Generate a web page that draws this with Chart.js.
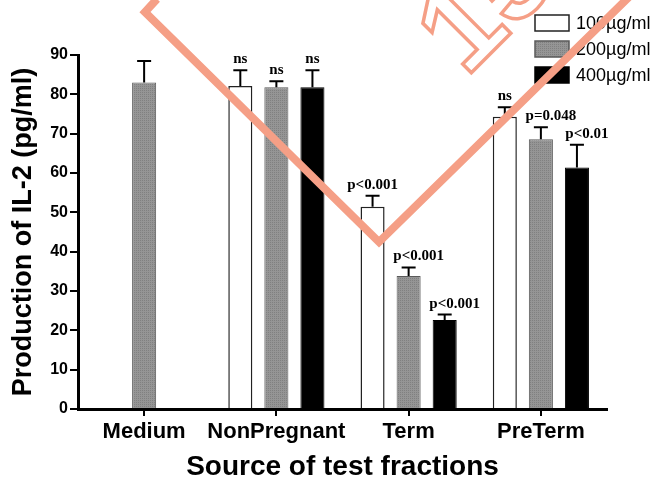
<!DOCTYPE html>
<html>
<head>
<meta charset="utf-8">
<script src="https://cdn.jsdelivr.net/npm/chart.js"></script>
<style>
  html, body { margin: 0; padding: 0; background: #fff; }
  #wrap { width: 653px; height: 478px; position: relative; }
</style>
</head>
<body>
<div id="wrap"><canvas id="il2Chart"></canvas></div>
<script>
// Data
const categories = ['Medium', 'NonPregnant', 'Term', 'PreTerm'];
const doseLabels = ['100µg/ml', '200µg/ml', '400µg/ml'];
const values100 = [null, 82.1, 51.4, 74.3];
const values200 = [83.0, 81.8, 33.8, 68.6];
const values400 = [null, 81.8, 22.6, 61.4];
const sem100 = [null, 4.0, 2.8, 2.4];
const sem200 = [5.5, 1.5, 2.2, 3.0];
const sem400 = [null, 4.3, 1.4, 5.8];
const notes100 = ['', 'ns', 'p<0.001', 'ns'];
const notes200 = ['', 'ns', 'p<0.001', 'p=0.048'];
const notes400 = ['', 'ns', 'p<0.001', 'p<0.01'];
const yTickValues = [0, 10, 20, 30, 40, 50, 60, 70, 80, 90];

const SANS = '"Liberation Sans", Arial, Helvetica, sans-serif';
const SERIF = '"Liberation Serif", "Times New Roman", serif';

const canvas = document.getElementById('il2Chart');

// fine dotted grey fill like the original print
function dotPattern() {
    const c = document.createElement('canvas');
    c.width = 2; c.height = 2;
    const g = c.getContext('2d');
    g.fillStyle = '#959595';
    g.fillRect(0, 0, 2, 2);
    g.fillStyle = '#808080';
    g.fillRect(0, 0, 1, 1);
    return canvas.getContext('2d').createPattern(c, 'repeat');
}

// upper error bars + significance labels
const errorBars = {
    id: 'errorBars',
    afterDatasetsDraw(chart) {
        const ctx = chart.ctx;
        const y = chart.scales.y;
        chart.data.datasets.forEach((ds, di) => {
            const meta = chart.getDatasetMeta(di);
            meta.data.forEach((bar, i) => {
                const v = ds.data[i];
                if (v == null) return;
                const top = y.getPixelForValue(v + ds.sem[i]);
                ctx.save();
                ctx.strokeStyle = '#000';
                ctx.lineWidth = 2;
                ctx.beginPath();
                ctx.moveTo(bar.x, bar.y);
                ctx.lineTo(bar.x, top);
                ctx.moveTo(bar.x - 7, top);
                ctx.lineTo(bar.x + 7, top);
                ctx.stroke();
                if (ds.notes[i]) {
                    ctx.fillStyle = '#000';
                    ctx.font = 'bold 15px ' + SERIF;
                    ctx.textAlign = 'center';
                    ctx.textBaseline = 'alphabetic';
                    // labels after the first bar of a group sit slightly right
                    const shift = (di > 0 && ds.notes[i] !== 'ns') ? 10 : 0;
                    ctx.fillText(ds.notes[i], bar.x + shift, top - 7);
                }
                ctx.restore();
            });
        });
    }
};

// legend in the top right corner, boxes stacked
const boxLegend = {
    id: 'boxLegend',
    afterDraw(chart) {
        const ctx = chart.ctx;
        chart.data.datasets.forEach((ds, i) => {
            const bx = 535, by = 15 + i * 26;
            ctx.save();
            ctx.fillStyle = ds.backgroundColor;
            ctx.fillRect(bx, by, 34, 16);
            ctx.strokeStyle = ds.borderColor;
            ctx.lineWidth = 1.5;
            ctx.strokeRect(bx, by, 34, 16);
            ctx.fillStyle = '#000';
            ctx.font = '18px ' + SANS;
            ctx.textBaseline = 'middle';
            ctx.fillText(ds.label, 576, by + 9);
            ctx.restore();
        });
    }
};

// salmon stamp overlay on the scanned figure
const stamp = {
    id: 'stamp',
    afterDraw(chart) {
        const ctx = chart.ctx;
        ctx.save();
        ctx.strokeStyle = '#f59f86';
        ctx.lineWidth = 8;
        ctx.lineJoin = 'miter';
        ctx.beginPath();
        ctx.moveTo(157, -1);
        ctx.lineTo(145, 12);
        ctx.lineTo(379, 242);
        ctx.lineTo(632, -6);
        ctx.stroke();
        ctx.translate(466, 78);
        ctx.rotate(-Math.PI / 4);
        ctx.lineWidth = 3.5;
        ctx.font = 'bold 120px ' + SANS;
        ctx.textBaseline = 'alphabetic';
        ctx.strokeText('15', 0, 0);
        ctx.restore();
    }
};

new Chart(canvas, {
    type: 'bar',
    data: {
        labels: categories,
        datasets: [
            {
                label: doseLabels[0],
                data: values100,
                sem: sem100,
                notes: notes100,
                backgroundColor: '#ffffff',
                borderColor: '#222222',
                borderWidth: 1.5
            },
            {
                label: doseLabels[1],
                data: values200,
                sem: sem200,
                notes: notes200,
                backgroundColor: dotPattern(),
                borderColor: '#5a5a5a',
                borderWidth: 1
            },
            {
                label: doseLabels[2],
                data: values400,
                sem: sem400,
                notes: notes400,
                backgroundColor: '#000000',
                borderColor: '#000000',
                borderWidth: 1
            }
        ]
    },
    options: {
        responsive: true,
        maintainAspectRatio: false,
        devicePixelRatio: 1,
        animation: false,
        categoryPercentage: 0.818,
        barPercentage: 0.667,
        layout: { padding: { top: 55, right: 46, left: 0, bottom: 0 } },
        plugins: {
            legend: { display: false },
            tooltip: { enabled: false }
        },
        scales: {
            x: {
                afterFit: scale => { scale.height = 69; },
                grid: {
                    offset: false,
                    drawOnChartArea: false,
                    drawTicks: true,
                    tickLength: 7,
                    lineWidth: 2,
                    color: '#000'
                },
                border: { display: true, width: 3, color: '#000' },
                ticks: {
                    color: '#000',
                    padding: 3,
                    autoSkip: false,
                    maxRotation: 0,
                    minRotation: 0,
                    font: { family: SANS, size: 22, weight: 'bold' }
                },
                title: {
                    display: true,
                    text: 'Source of test fractions',
                    color: '#000',
                    padding: { top: 0, bottom: -3 },
                    font: { family: SANS, size: 28, weight: 'bold', lineHeight: 1 }
                }
            },
            y: {
                min: 0,
                max: 90,
                afterFit: scale => { scale.width = 78; },
                afterBuildTicks: scale => {
                    scale.ticks = yTickValues.map(v => ({ value: v }));
                },
                grid: {
                    drawOnChartArea: false,
                    drawTicks: true,
                    tickLength: 8,
                    lineWidth: 2,
                    color: '#000'
                },
                border: { display: true, width: 3, color: '#000' },
                ticks: {
                    color: '#000',
                    padding: 2,
                    font: { family: SANS, size: 16, weight: 'bold' }
                },
                title: {
                    display: true,
                    text: 'Production of IL-2 (pg/ml)',
                    color: '#000',
                    padding: { top: 10, bottom: 0 },
                    font: { family: SANS, size: 27, weight: 'bold', lineHeight: 1 }
                }
            }
        }
    },
    plugins: [errorBars, boxLegend, stamp]
});
</script>
</body>
</html>
